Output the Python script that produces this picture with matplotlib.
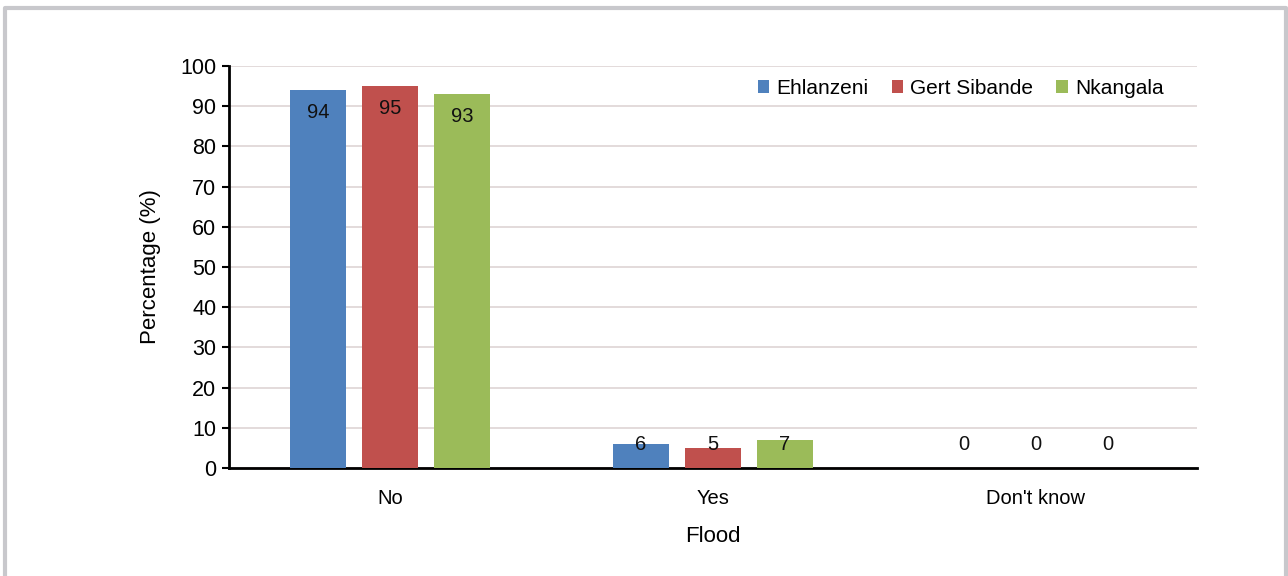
import numpy as np
import matplotlib.pyplot as plt
from matplotlib.lines import Line2D

categories = ['No', 'Yes', "Don't know"]
districts = ['Ehlanzeni', 'Gert Sibande', 'Nkangala']
ehlanzeni = [94, 6, 0]
gert_sibande = [95, 5, 0]
nkangala = [93, 7, 0]
colors = ['#4F81BD', '#C0504D', '#9BBB59']

plt.rcParams['font.family'] = ['Liberation Sans', 'DejaVu Sans']

fig = plt.figure(figsize=(12.88, 5.76), dpi=100)
ax = fig.add_axes([229 / 1288, 1 - 468 / 576, (1197 - 229) / 1288, (468 - 66) / 576])

x = np.arange(len(categories))
width = 0.174
offset = 0.223
for i, (vals, name) in enumerate(zip([ehlanzeni, gert_sibande, nkangala], districts)):
    pos = x + (i - 1) * offset
    ax.bar(pos, vals, width, color=colors[i], label=name, zorder=3)
    for p, v in zip(pos, vals):
        ty = v - 5.5 if v > 20 else 5.8
        ax.text(p, ty, str(v), ha='center', va='center', fontsize=14.5, color='#111111', zorder=4)

ax.set_xlim(-0.5, 2.5)
ax.set_ylim(0, 100)
ax.set_yticks(range(0, 101, 10))
ax.set_xticks(x)
ax.set_xticklabels(categories, fontsize=14.5)
ax.tick_params(axis='y', labelsize=15.5, length=5, width=1.5, direction='out', pad=4)
ax.tick_params(axis='x', length=0, pad=15)
ax.yaxis.grid(True, color='#e0d8d8', linewidth=1.3, zorder=0)
ax.set_axisbelow(True)
for s in ['top', 'right']:
    ax.spines[s].set_visible(False)
ax.spines['left'].set_linewidth(2)
ax.spines['bottom'].set_linewidth(2)
ax.set_ylabel('Percentage (%)', fontsize=16, labelpad=14)
ax.set_xlabel('Flood', fontsize=16, labelpad=13)

ax.legend(loc='upper right', bbox_to_anchor=(0.985, 1.015), ncol=3, frameon=False, fontsize=15,
          handlelength=0.55, handleheight=0.55, handletextpad=0.35, columnspacing=1.1)

# grey frame around the figure
fig.add_artist(Line2D([5 / 1288, 5 / 1288, 1286 / 1288, 1286 / 1288],
                      [0, 1 - 8 / 576, 1 - 8 / 576, 0], color='#c8c8cc', linewidth=3,
                      transform=fig.transFigure))

fig.savefig('out.png', dpi=100)
